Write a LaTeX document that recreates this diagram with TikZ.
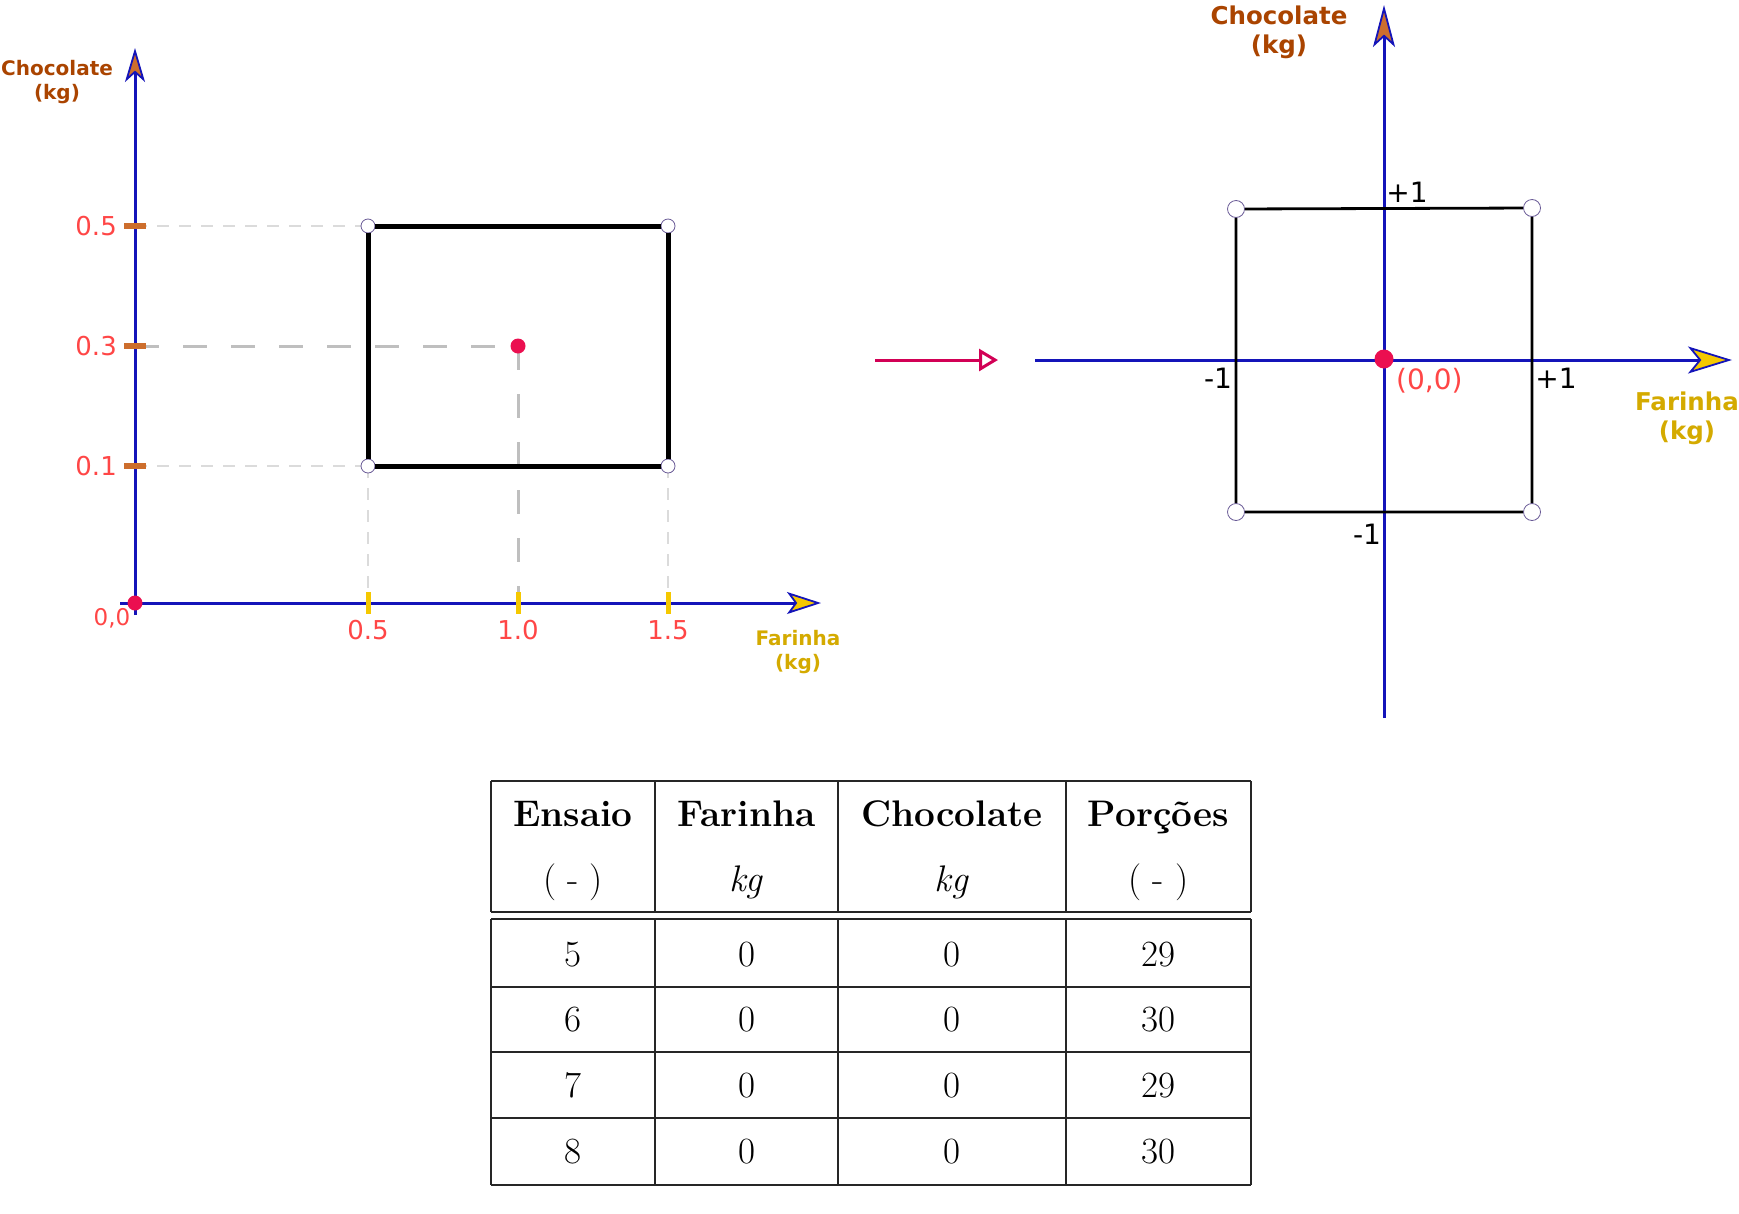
\documentclass[tikz,border=0pt]{standalone}
\usepackage{fontspec}
\usepackage{tikz}
\usetikzlibrary{arrows.meta}
\newfontfamily\geofont{DejaVu Sans}
\definecolor{axisblue}{RGB}{20, 20, 185}
\definecolor{labelbrown}{RGB}{170, 68, 0}
\definecolor{labelgold}{RGB}{212, 170, 0}
\definecolor{tickorange}{RGB}{205, 110, 45}
\definecolor{tickyellow}{RGB}{245, 200, 0}
\definecolor{valuered}{RGB}{255, 70, 70}
\definecolor{pointred}{RGB}{235, 15, 80}
\definecolor{maparrow}{RGB}{210, 0, 85}
\definecolor{vertexedge}{RGB}{105, 90, 150}

\begin{document}
\begin{tikzpicture}[x=1pt, y=-1pt,
    axis/.style={draw=axisblue, line width=3pt},
    axislabel/.style={font=\geofont\bfseries, align=center, inner sep=0pt},
    value/.style={font=\geofont, text=valuered, inner sep=0pt},
    coded/.style={font=\geofont\fontsize{28}{32}\selectfont, inner sep=0pt},
    vertex/.style={circle, draw=vertexedge, fill=white, line width=0.8pt, inner sep=0pt},
    centerpt/.style={circle, fill=pointred, inner sep=0pt},
    guide/.style={draw=black!14, line width=1.5pt, dash pattern=on 12pt off 10pt},
    guidecenter/.style={draw=black!25, line width=3pt, dash pattern=on 24pt off 24pt},
    cell/.style={inner sep=0pt, anchor=base, font=\fontsize{37}{44}\selectfont},
    rule/.style={draw=black!85, line width=1.8pt}
]
    \useasboundingbox (0,0) rectangle (1739,1213);

    % ---------- left graph: real units ----------
    \coordinate (o) at (135,603);
    \coordinate (ybot) at (135,615);
    \coordinate (ytop) at (135,48);
    \coordinate (xbeg) at (120,603);
    \coordinate (xend) at (821,603);

    % guide lines to the axes
    \draw[guide] (135,226) -- (368,226);
    \draw[guide] (135,466) -- (368,466);
    \draw[guide] (368,466) -- (368,603);
    \draw[guide] (668,466) -- (668,603);
    \draw[guidecenter] (135,346) -- (518,346);
    \draw[guidecenter] (518,346) -- (518,603);

    % axes
    \draw[axis, -{Stealth[length=34pt, width=20pt, inset=9pt, fill=tickorange, line width=1.8pt]}] (ybot) -- (ytop);
    \draw[axis, -{Stealth[length=34pt, width=22pt, inset=8pt, fill=tickyellow, line width=1.8pt]}] (xbeg) -- (xend);

    % ticks
    \foreach \y/\lab in {226/0.5, 346/0.3, 466/0.1} {
        \draw[tickorange, line width=6pt] (124,\y) -- (146,\y);
        \node[value, anchor=east, font=\geofont\fontsize{26}{30}\selectfont] (ytick\lab) at (117,\y) {\lab};
    }
    \foreach \x/\lab in {368/0.5, 518/1.0, 668/1.5} {
        \draw[tickyellow, line width=5pt] (\x,592) -- (\x,614);
        \node[value, font=\geofont\fontsize{26}{30}\selectfont] (xtick\lab) at (\x,630) {\lab};
    }
    \node[value, font=\geofont\fontsize{23}{26}\selectfont] (orig) at (112,618) {0,0};

    % experimental region
    \node[vertex, minimum size=14pt] (a) at (368,226) {};
    \node[vertex, minimum size=14pt] (b) at (668,226) {};
    \node[vertex, minimum size=14pt] (c) at (668,466) {};
    \node[vertex, minimum size=14pt] (d) at (368,466) {};
    \draw[black, line width=5pt] (a) -- (b) -- (c) -- (d) -- (a);
    \node[centerpt, minimum size=15pt] (m) at (518,346) {};
    \node[centerpt, minimum size=15pt] (z) at (o) {};

    % axis titles
    \node[axislabel, text=labelbrown, font=\geofont\bfseries\fontsize{20}{24}\selectfont] (ychoc) at (57,82) {Chocolate\\(kg)};
    \node[axislabel, text=labelgold, font=\geofont\bfseries\fontsize{20}{24}\selectfont] (xfar) at (798,652) {Farinha\\(kg)};

    % ---------- mapping arrow ----------
    \coordinate (mapa) at (875,360);
    \coordinate (mapb) at (998,360);
    \draw[maparrow, line width=3pt, -{Triangle[open, length=19pt, width=22pt, line width=3pt]}] (mapa) -- (mapb);

    % ---------- right graph: coded units ----------
    \coordinate (ry1) at (1384,718);
    \coordinate (ry2) at (1384,5);
    \coordinate (rx1) at (1035,360);
    \coordinate (rx2) at (1732,360);
    \draw[axis, -{Stealth[length=42pt, width=22pt, inset=10pt, fill=tickorange, line width=1.8pt]}] (ry1) -- (ry2);
    \draw[axis, -{Stealth[length=44pt, width=27pt, inset=11pt, fill=tickyellow, line width=1.8pt]}] (rx1) -- (rx2);

    \node[vertex, minimum size=17pt] (p1) at (1236,209) {};
    \node[vertex, minimum size=17pt] (p2) at (1532,208) {};
    \node[vertex, minimum size=17pt] (p3) at (1532,512) {};
    \node[vertex, minimum size=17pt] (p4) at (1236,512) {};
    \draw[black, line width=2.8pt] (p1) -- (p2) -- (p3) -- (p4) -- (p1);
    \node[centerpt, minimum size=19pt] (pc) at (1384,359) {};

    \node[coded] (ytop1) at (1407,192) {+1};
    \node[coded] (xneg1) at (1218,378) {-1};
    \node[coded] (xpos1) at (1556,378) {+1};
    \node[coded] (yneg1) at (1367,534) {-1};
    \node[coded, text=valuered, anchor=west] (pclab) at (1396,381) {(0,0)};

    \node[axislabel, text=labelbrown, font=\geofont\bfseries\fontsize{24.5}{29}\selectfont] (rychoc) at (1279,32) {Chocolate\\(kg)};
    \node[axislabel, text=labelgold, font=\geofont\bfseries\fontsize{24.5}{29}\selectfont] (rxfar) at (1687,418) {Farinha\\(kg)};

    % ---------- table ----------
    \draw[rule] (491,781) -- (1251,781);
    \draw[rule] (491,912) -- (1251,912);
    \foreach \y in {919, 987, 1052, 1118, 1185}
        \draw[rule] (491,\y) -- (1251,\y);
    \foreach \x in {491, 655, 838, 1066, 1251} {
        \draw[rule] (\x,781) -- (\x,912);
        \draw[rule] (\x,919) -- (\x,1185);
    }

    \node[cell] (h1) at (573,826) {\textbf{Ensaio}};
    \node[cell] (h2) at (746.5,826) {\textbf{Farinha}};
    \node[cell] (h3) at (952,826) {\textbf{Chocolate}};
    \node[cell] (h4) at (1158.5,826) {\textbf{Porções}};
    \node[cell] (u1) at (573,891) {(\ -\ )};
    \node[cell] (u2) at (746.5,891) {\textit{kg}};
    \node[cell] (u3) at (952,891) {\textit{kg}};
    \node[cell] (u4) at (1158.5,891) {(\ -\ )};

    \foreach \y/\run/\por in {953/5/29, 1018/6/30, 1084/7/29, 1150/8/30} {
        \node[cell] (r\run a) at (573,\y+13) {\run};
        \node[cell] (r\run b) at (746.5,\y+13) {0};
        \node[cell] (r\run c) at (952,\y+13) {0};
        \node[cell] (r\run d) at (1158.5,\y+13) {\por};
    }

\end{tikzpicture}
\end{document}
